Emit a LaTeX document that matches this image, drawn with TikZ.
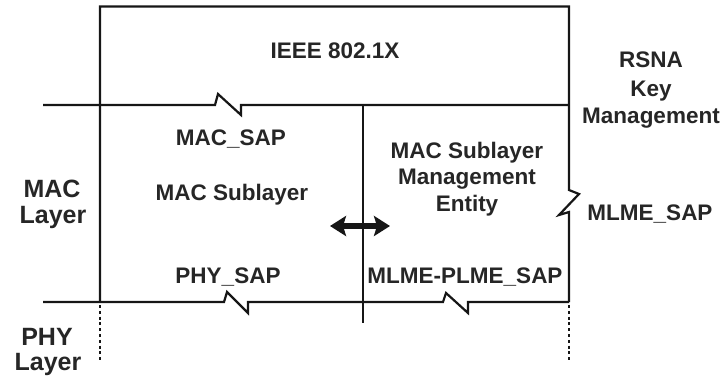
\documentclass[tikz,border=0pt]{standalone}
\usepackage{fontspec}
\setmainfont{Liberation Sans}
\usetikzlibrary{arrows.meta}
\definecolor{ink}{HTML}{161616}
\definecolor{txt}{HTML}{262626}
\tikzset{
  wire/.style={draw=ink, line width=2.2pt, line join=miter},
  dots/.style={draw=ink, line width=2.4pt, dash pattern=on 3pt off 2.8pt},
  lbl/.style={text=txt, font=\bfseries\fontsize{22.5}{26}\selectfont, inner sep=0pt, anchor=base},
  side/.style={text=txt, font=\bfseries\fontsize{25}{26}\selectfont, inner sep=0pt, anchor=base},
  dblarrow/.style={draw=ink, line width=6pt, {Stealth[length=16pt,width=20pt,inset=3pt]}-{Stealth[length=16pt,width=20pt,inset=3pt]}}
}
\begin{document}
\begin{tikzpicture}[x=1pt,y=-1pt]
\useasboundingbox (0,0) rectangle (721,378);
% top box and frame
\draw[wire] (100,302) -- (100,6.5) -- (569,6.5) -- (569,190) -- (579,194) -- (559,215) -- (569,212) -- (569,302);
% upper horizontal with MAC_SAP break
\draw[wire] (43,105) -- (215,105) -- (218,94) -- (241,115) -- (241,105) -- (569,105);
% middle vertical
\draw[wire] (363,105) -- (363,323);
% lower horizontal with PHY_SAP and MLME-PLME_SAP breaks
\draw[wire] (43,302) -- (224,302) -- (227,292) -- (248,313) -- (248,302)
  -- (443,302) -- (446,293) -- (468,313) -- (468,302) -- (569,302);
% dotted continuations
\draw[dots] (100,305) -- (100,362);
\draw[dots] (569,305) -- (569,361);
% double arrow
\coordinate (al) at (330,226);
\coordinate (ar) at (390,226);
\draw[dblarrow] (al) -- (ar);
% texts
\node[lbl] (ieee) at (335,58) {IEEE 802.1X};
\node[lbl] (rsna1) at (651,67) {RSNA};
\node[lbl] (rsna2) at (651,96) {Key};
\node[lbl] (rsna3) at (651,123) {Management};
\node[lbl] (macsap) at (231,145) {MAC\_SAP};
\node[lbl] (macsub) at (232,200) {MAC Sublayer};
\node[lbl] (mlme1) at (467,158) {MAC Sublayer};
\node[lbl] (mlme2) at (467,184) {Management};
\node[lbl] (mlme3) at (467,211) {Entity};
\node[lbl] (mlmesap) at (650,220) {MLME\_SAP};
\node[lbl] (physap) at (228,283) {PHY\_SAP};
\node[lbl] (plmesap) at (465,283) {MLME-PLME\_SAP};
\node[side] (mac1) at (52,197) {MAC};
\node[side] (mac2) at (53,223) {Layer};
\node[side] (phy1) at (47,345) {PHY};
\node[side] (phy2) at (48,370) {Layer};
\end{tikzpicture}
\end{document}
